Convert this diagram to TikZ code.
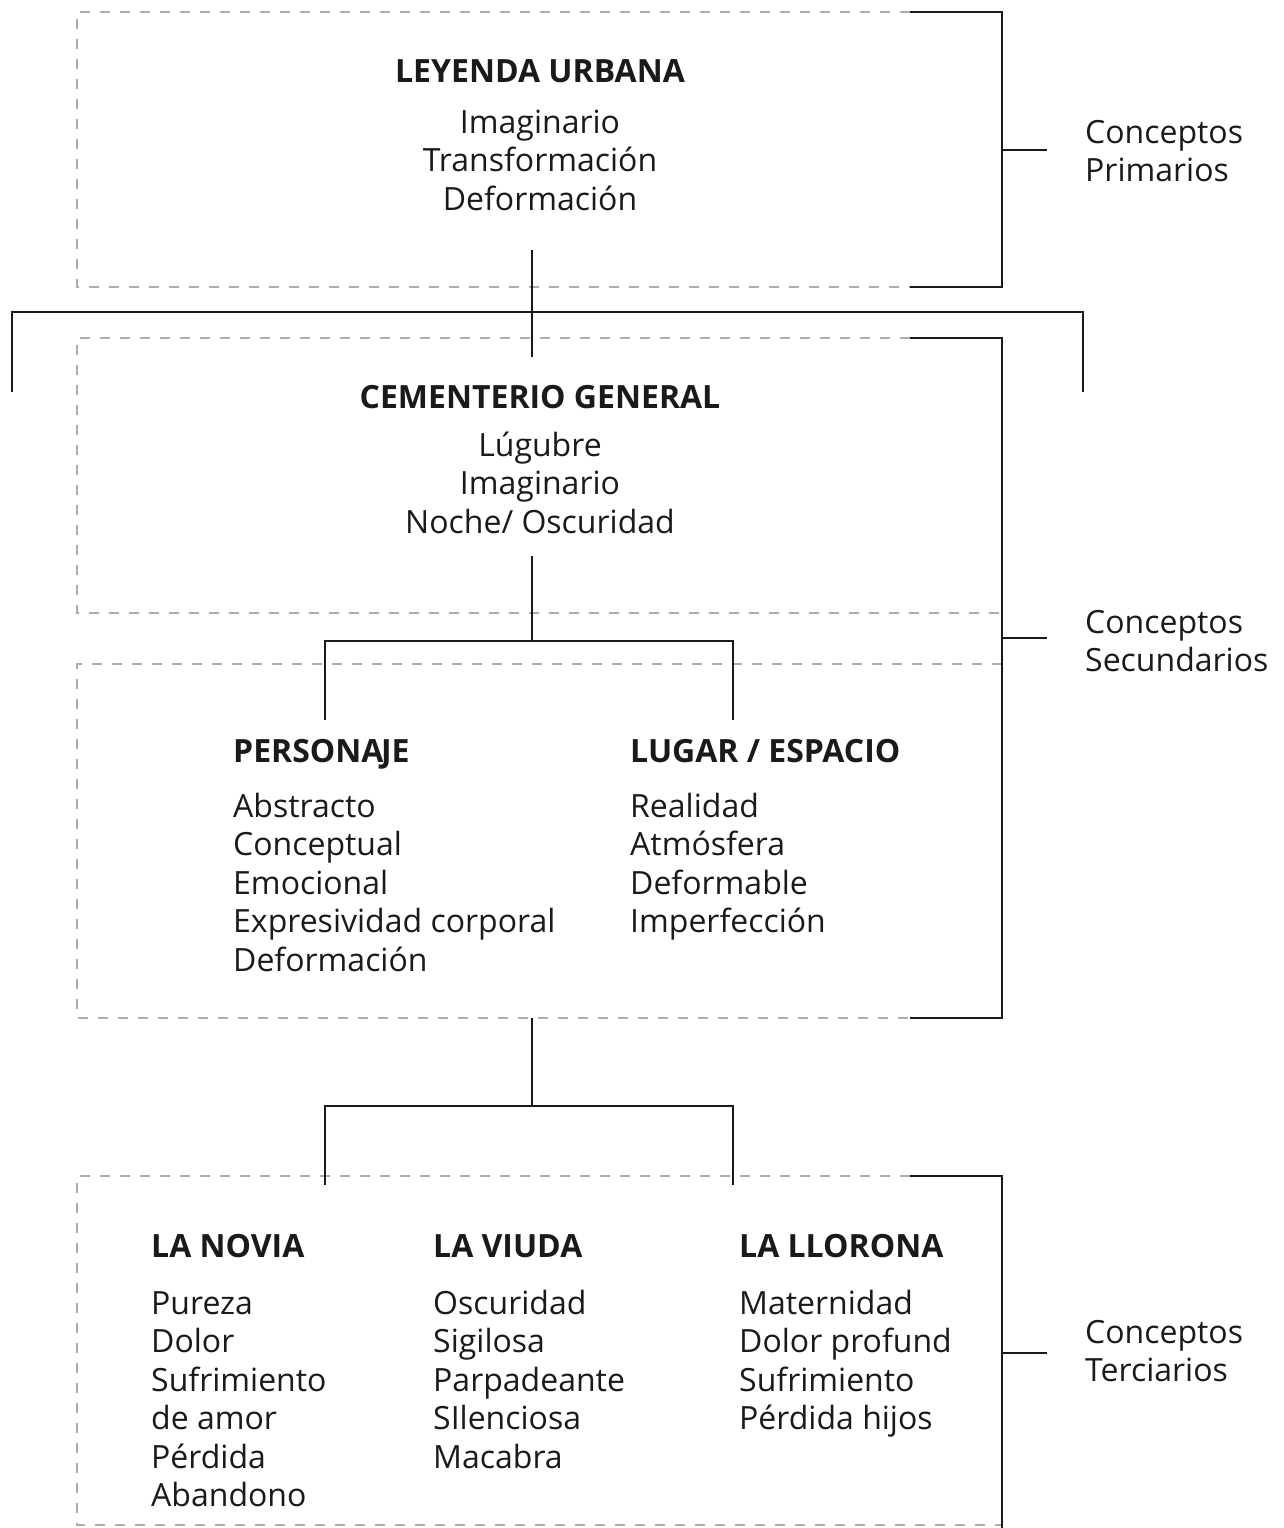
\documentclass[tikz,border=0pt]{standalone}
\usepackage{fontspec}
\setmainfont{Open Sans}
\usetikzlibrary{positioning}
\definecolor{dashgray}{RGB}{172,172,172}
\definecolor{inkblack}{RGB}{26,26,26}

\begin{document}
\begin{tikzpicture}[x=1pt, y=-1pt,
        dashbox/.style={dashgray, line width=2.4pt, dash pattern=on 10pt off 10pt},
        bracket/.style={inkblack, line width=2.8pt},
        link/.style={inkblack, line width=2.6pt},
        head/.style={font=\fontsize{32}{38.5}\selectfont\bfseries, inner sep=0pt, text=inkblack},
        items/.style={font=\fontsize{32}{38.5}\selectfont, inner sep=0pt, text=inkblack}]
        \useasboundingbox (0,0) rectangle (1283,1528);
        % dashed frames
        \draw[dashbox] (910,12) -- (77,12) -- (77,287) -- (910,287);
        \draw[dashbox] (910,338) -- (77,338) -- (77,613) -- (1002,613);
        \draw[dashbox] (1002,664) -- (77,664) -- (77,1018) -- (910,1018);
        \draw[dashbox] (910,1176) -- (77,1176) -- (77,1525) -- (1002,1525);
        % brackets
        \draw[bracket] (910,12) -- (1002,12) -- (1002,287) -- (910,287);
        \draw[bracket] (1002,150) -- (1047,150);
        \draw[bracket] (910,338) -- (1002,338) -- (1002,1018) -- (910,1018);
        \draw[bracket] (1002,638) -- (1047,638);
        \draw[bracket] (910,1176) -- (1002,1176) -- (1002,1528);
        \draw[bracket] (1002,1353) -- (1047,1353);
        % texts (base = last line)
        \node[head, anchor=base] (leyenda) at (540,82) {LEYENDA URBANA};
        \node[items, align=center, anchor=base] (leyendaitems) at (540,210) {Imaginario\\Transformación\\Deformación};
        \node[head, anchor=base] (cementerio) at (540,408) {CEMENTERIO GENERAL};
        \node[items, align=center, anchor=base] (cementerioitems) at (540,533) {Lúgubre\\Imaginario\\Noche/ Oscuridad};
        \node[head, anchor=base west] (personaje) at (233,762) {PERSONA\kern-2.5pt JE};
        \node[items, align=left, anchor=base west] (personajeitems) at (233,971) {Abstracto\\Conceptual\\Emocional\\Expresividad corporal\\Deformación};
        \node[head, anchor=base west] (lugar) at (630,762) {LUGAR / ESPACIO};
        \node[items, align=left, anchor=base west] (lugaritems) at (630,932.5) {Realidad\\Atmósfera\\Deformable\\Imperfección};
        \node[head, anchor=base west] (novia) at (151,1257) {LA NOVIA};
        \node[items, align=left, anchor=base west] (noviaitems) at (151,1506.5) {Pureza\\Dolor\\Sufrimiento\\de amor\\Pérdida\\Abandono};
        \node[head, anchor=base west] (viuda) at (433,1257) {LA VIUDA};
        \node[items, align=left, anchor=base west] (viudaitems) at (433,1468) {Oscuridad\\Sigilosa\\Parpadeante\\SIlenciosa\\Macabra};
        \node[head, anchor=base west] (llorona) at (739,1257) {LA LLORONA};
        \node[items, align=left, anchor=base west] (lloronaitems) at (739,1429.5) {Maternidad\\Dolor profund\\Sufrimiento\\Pérdida hijos};
        \node[items, align=left, anchor=base west] (primarios) at (1085,181.5) {Conceptos\\Primarios};
        \node[items, align=left, anchor=base west] (secundarios) at (1085,671.5) {Conceptos\\Secundarios};
        \node[items, align=left, anchor=base west] (terciarios) at (1085,1381.5) {Conceptos\\Terciarios};
        % connectors
        \coordinate (leyendafoot) at (532,250);
        \coordinate (cementeriotop) at (532,357);
        \coordinate (spanleft) at (12,392);
        \coordinate (spanright) at (1083,392);
        \draw[link] (leyendafoot) -- (cementeriotop);
        \draw[link] (spanleft) -- ++(0,-80) -| (spanright);
        \coordinate (cementeriofoot) at (532,556);
        \coordinate (personajetop) at (325,720);
        \coordinate (lugartop) at (733,720);
        \draw[link] (cementeriofoot) -- ++(0,85);
        \draw[link] (personajetop) -- ++(0,-79) -| (lugartop);
        \coordinate (conceptosfoot) at (532,1018);
        \coordinate (noviatop) at (325,1185);
        \coordinate (lloronatop) at (733,1185);
        \draw[link] (conceptosfoot) -- ++(0,88);
        \draw[link] (noviatop) -- ++(0,-79) -| (lloronatop);
\end{tikzpicture}
\end{document}
